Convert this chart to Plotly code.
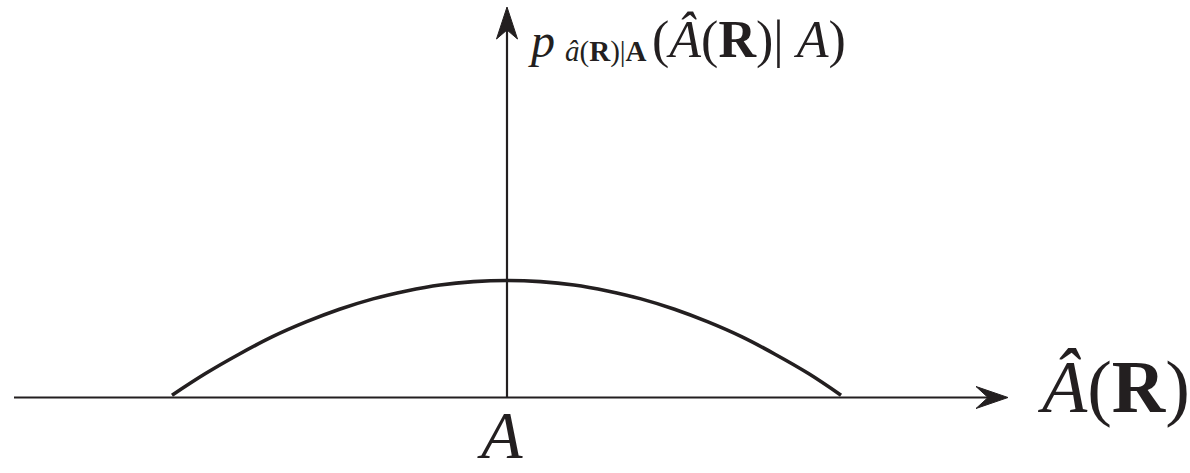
import plotly.graph_objects as go

# ---- data (x in units of curve half-width, y in units of peak height) ----
curve_x = [-1.0, -0.9, -0.8, -0.7, -0.6, -0.5, -0.4, -0.3, -0.2, -0.1, 0.0,
           0.1, 0.2, 0.3, 0.4, 0.5, 0.6, 0.7, 0.8, 0.9, 0.997]
curve_y = [0.02, 0.205, 0.37, 0.52, 0.646, 0.754, 0.843, 0.91, 0.961, 0.99, 1.0,
           0.99, 0.961, 0.91, 0.843, 0.754, 0.646, 0.52, 0.37, 0.205, 0.02]

x_label = "<i>Â</i>(<b>R</b>)"
center_label = "<i>A</i>"
y_label_p = "<i>p</i>"
y_label_sub = "<i>â</i>(<b>R</b>)|<b>A</b>"
y_label_main = "(<i>Â</i>(<b>R</b>)| <i>A</i>)"

# ---- layout geometry ----
W, H = 1190, 473
X0_PX, XU = 507, 335
Y0_PX, YU = 397.5, 117
INK = "#231f20"
FONT = "Liberation Serif, Times New Roman, serif"


def dx(px):
    return (px - X0_PX) / XU


def dy(py):
    return (Y0_PX - py) / YU


fig = go.Figure()
fig.add_trace(go.Scatter(x=curve_x, y=curve_y, mode="lines",
                         line=dict(color=INK, width=3.6, shape="spline"),
                         hoverinfo="skip", showlegend=False))

shapes = [
    # horizontal axis
    dict(type="line", xref="x", yref="y", x0=dx(14), x1=dx(992), y0=0, y1=0,
         line=dict(color=INK, width=2.2)),
    # vertical axis
    dict(type="line", xref="x", yref="y", x0=0, x1=0, y0=0, y1=dy(30),
         line=dict(color=INK, width=2.2)),
    # right arrowhead
    dict(type="path", xref="x", yref="y",
         path=f"M {dx(1008)},{dy(397.5)} L {dx(976)},{dy(386.5)} L {dx(988)},{dy(397.5)} "
              f"L {dx(976)},{dy(408.5)} Z",
         fillcolor=INK, line=dict(color=INK, width=1)),
    # top arrowhead
    dict(type="path", xref="x", yref="y",
         path=f"M {dx(507)},{dy(7)} L {dx(496.5)},{dy(39)} L {dx(507)},{dy(30)} "
              f"L {dx(517.5)},{dy(39)} Z",
         fillcolor=INK, line=dict(color=INK, width=1)),
]


def ann(text, px, py, size, xanchor, yanchor="middle"):
    return dict(text=text, xref="paper", yref="paper", x=px / W, y=1 - py / H,
                xanchor=xanchor, yanchor=yanchor, showarrow=False,
                borderpad=0, borderwidth=0,
                font=dict(family=FONT, size=size, color=INK))


annotations = [
    ann(x_label, 1190, 387, 74, "right"),
    ann(center_label, 500, 473, 68, "center", "bottom"),
    ann(y_label_p, 528, 41, 48, "left"),
    ann(y_label_sub, 565, 51, 29, "left"),
    ann(y_label_main, 652, 40, 52, "left"),
]

fig.update_layout(
    width=W, height=H,
    margin=dict(l=0, r=0, t=0, b=0),
    paper_bgcolor="white", plot_bgcolor="white",
    xaxis=dict(range=[dx(0), dx(W)], visible=False, fixedrange=True),
    yaxis=dict(range=[dy(H), dy(0)], visible=False, fixedrange=True),
    shapes=shapes,
    annotations=annotations,
    showlegend=False,
)

fig.write_html("out.html", config={"displayModeBar": False},
               post_script="document.body.style.margin='0';"
                           "document.body.style.overflow='hidden';")
